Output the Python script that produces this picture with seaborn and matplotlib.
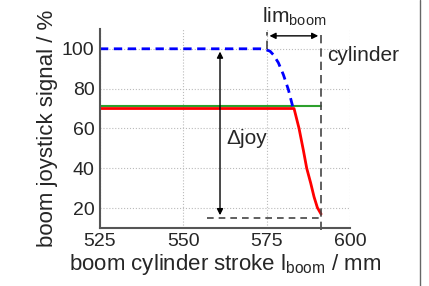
import numpy as np
import pandas as pd
import seaborn as sns
import matplotlib.pyplot as plt
from matplotlib.lines import Line2D

# data
blue_x = [525, 573, 574.5, 576, 577, 578.5, 580, 581.5, 582.8]
blue_y = [100, 100, 99.7, 98.8, 97, 93, 87, 79.5, 71]
red_x = [525, 583.2, 584.7, 586, 587, 588.2, 589.2, 590.2, 591.3]
red_y = [70, 70, 60, 49, 40, 32.5, 25.6, 20.2, 17]
green_x = [525, 591.3]
green_y = [71.3, 71.3]
x_ticks = [525, 550, 575, 600]
y_ticks = [20, 40, 60, 80, 100]
lim_start = 575
lim_end = 591.3
joy_x = 561
joy_top = 100
joy_bottom = 15

sns.set_style("whitegrid", {"grid.linestyle": ":", "grid.color": "#bbbbbb"})
plt.rcParams['font.family'] = ['Liberation Sans', 'DejaVu Sans']
plt.rcParams['mathtext.default'] = 'regular'

fig = plt.figure(figsize=(4.29, 2.86), dpi=100)
ax = fig.add_axes([0.233, 0.203, 0.583, 0.696])

sns.lineplot(x=green_x, y=green_y, color='#2ca02c', lw=1.5, ax=ax, sort=False)
sns.lineplot(x=red_x, y=red_y, color='red', lw=2, ax=ax, sort=False)
sns.lineplot(x=blue_x, y=blue_y, color='blue', lw=2, ax=ax, sort=False,
             linestyle=(0, (3, 2)))

ax.set_xlim(525, 600)
ax.set_ylim(10, 110)
ax.set_xticks(x_ticks)
ax.set_yticks(y_ticks)
ax.tick_params(labelsize=14, direction='in', length=3, color='#666666', pad=4)
ax.grid(True, linestyle=':', color='#bbbbbb', lw=0.8)
for s in ['top', 'right']:
    ax.spines[s].set_visible(False)
for s in ['left', 'bottom']:
    ax.spines[s].set_color('#555555')
    ax.spines[s].set_linewidth(1.5)

ax.set_xlabel(r'boom cylinder stroke l$_{boom}$ / mm', fontsize=16, labelpad=1)
ax.set_ylabel('boom joystick signal / %', fontsize=16, labelpad=3)

# limit markers
ax.plot([lim_end, lim_end], [9, 108.5], ls=(0, (5, 3)), color='#444444', lw=1.2, clip_on=False)
ax.plot([lim_start, lim_start], [100, 108.5], ls=(0, (5, 3)), color='#444444', lw=1.2, clip_on=False)
ax.annotate('', xy=(lim_start, 106.5), xytext=(lim_end, 106.5),
            arrowprops=dict(arrowstyle='<|-|>', color='black', lw=1, mutation_scale=9),
            annotation_clip=False)
ax.text((lim_start + lim_end) / 2, 110.5, r'lim$_{boom}$', fontsize=15, ha='center', va='bottom',
        clip_on=False)
ax.text(593, 96.5, 'cylinder', fontsize=15, ha='left', va='center', clip_on=False)

# delta joy
ax.plot([557, lim_end], [joy_bottom, joy_bottom], ls=(0, (4, 3)), color='#444444', lw=1.2)
ax.annotate('', xy=(joy_x, joy_top), xytext=(joy_x, joy_bottom),
            arrowprops=dict(arrowstyle='<|-|>', color='black', lw=1, mutation_scale=9))
ax.text(563, 55, '\u0394joy', fontsize=15, ha='left', va='center')

fig.add_artist(Line2D([0.979, 0.979], [0, 1], color='#666666', lw=1))

fig.savefig('out.png', dpi=100)
